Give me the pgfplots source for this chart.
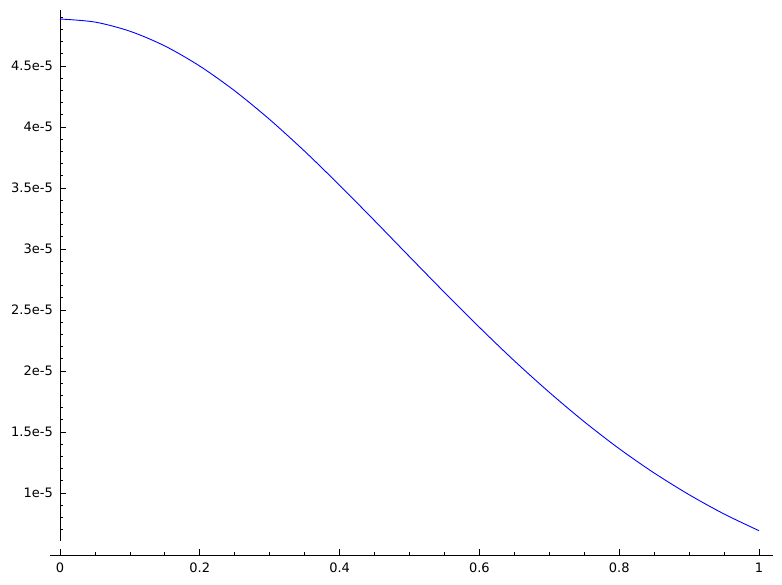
\documentclass[border=0pt]{standalone}
\usepackage{fontspec}
\setmainfont{DejaVu Sans}
\usepackage{pgfplots}
\pgfplotsset{compat=1.18}
\begin{document}
\fontsize{13bp}{15bp}\selectfont
\begin{tikzpicture}[x=1bp,y=1bp]
\path[use as bounding box] (0,0) rectangle (782,585);
\begin{axis}[
  at={(50bp,30bp)}, anchor=south west,
  scale only axis, width=723bp, height=545bp,
  xmin=-0.01431, xmax=1.02003,
  ymin=0.4918e-5, ymax=4.959e-5,
  axis x line*=bottom, axis y line*=center,
  axis line style={black, line width=0.9bp, -},
  y axis line style={shorten <=14bp},
  tick align=inside,
  major tick length=5.5bp, minor tick length=3.2bp,
  tick style={black, line width=0.8bp},
  xtick={0,0.2,0.4,0.6,0.8,1},
  xticklabels={0,0.2,0.4,0.6,0.8,1},
  minor xtick={0.05,0.1,0.15,0.25,0.3,0.35,0.45,0.5,0.55,0.65,0.7,0.75,0.85,0.9,0.95},
  ytick={1e-5,1.5e-5,2e-5,2.5e-5,3e-5,3.5e-5,4e-5,4.5e-5},
  yticklabels={1e-5,1.5e-5,2e-5,2.5e-5,3e-5,3.5e-5,4e-5,4.5e-5},
  minor ytick={0.7e-5,0.8e-5,0.9e-5,1.1e-5,1.2e-5,1.3e-5,1.4e-5,1.6e-5,1.7e-5,1.8e-5,1.9e-5,
    2.1e-5,2.2e-5,2.3e-5,2.4e-5,2.6e-5,2.7e-5,2.8e-5,2.9e-5,3.1e-5,3.2e-5,3.3e-5,3.4e-5,
    3.6e-5,3.7e-5,3.8e-5,3.9e-5,4.1e-5,4.2e-5,4.3e-5,4.4e-5,4.6e-5,4.7e-5,4.8e-5,4.9e-5},
  scaled y ticks=false,
  every tick label/.append style={font=\fontsize{13bp}{15bp}\selectfont, inner sep=0pt},
  yticklabel style={anchor=east, xshift=-7bp},
  xticklabel style={anchor=north, yshift=-7.5bp},
  clip=false,
]
% curve at steps of 0.05
\addplot[color={rgb,255:red,0;green,0;blue,255}, line width=0.9bp, smooth] coordinates {
  (0,4.885e-5) (0.05,4.860e-5) (0.1,4.785e-5) (0.15,4.664e-5) (0.2,4.499e-5)
  (0.25,4.296e-5) (0.3,4.061e-5) (0.35,3.801e-5) (0.4,3.522e-5) (0.45,3.232e-5)
  (0.5,2.937e-5) (0.55,2.644e-5) (0.6,2.358e-5) (0.65,2.083e-5) (0.7,1.825e-5)
  (0.75,1.584e-5) (0.8,1.363e-5) (0.85,1.164e-5) (0.9,0.986e-5) (0.95,0.828e-5)
  (1.0,0.691e-5)
};
\end{axis}
\end{tikzpicture}
\end{document}
